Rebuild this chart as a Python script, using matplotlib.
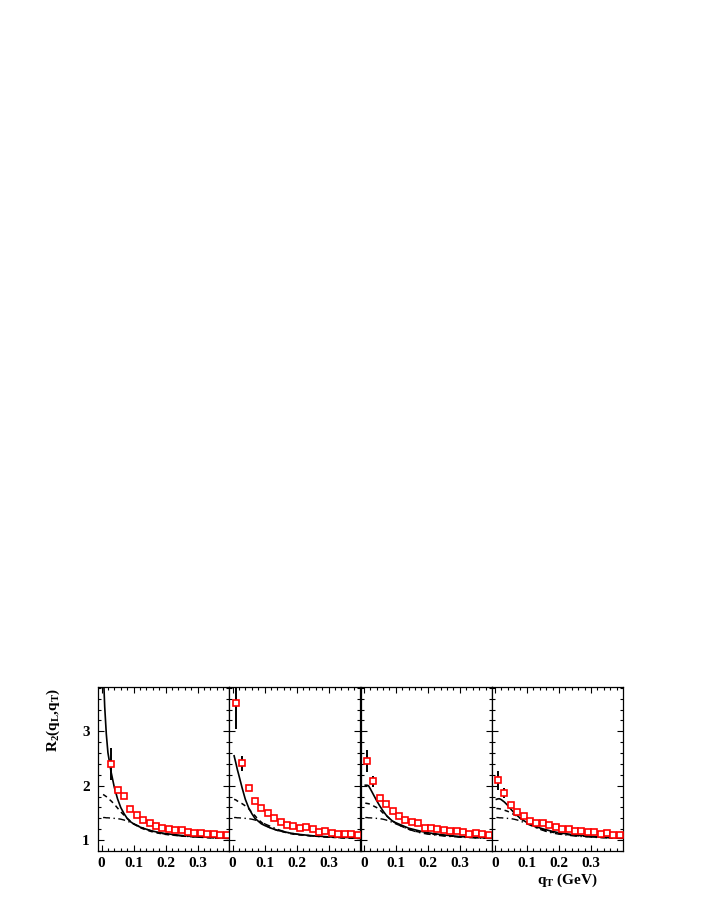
import matplotlib
matplotlib.use("Agg")
import matplotlib.pyplot as plt
from matplotlib.ticker import MultipleLocator, FixedLocator

plt.rcParams['font.family'] = ['Liberation Serif', 'DejaVu Serif']
plt.rcParams['mathtext.fontset'] = 'custom'
plt.rcParams['mathtext.rm'] = 'Liberation Serif:bold'
plt.rcParams['mathtext.it'] = 'Liberation Serif:bold'
plt.rcParams['mathtext.bf'] = 'Liberation Serif:bold'

# data points (q_T in GeV, R2 values) for the four panels
q_pts_a = [0.03, 0.05, 0.07, 0.09, 0.11, 0.13, 0.15, 0.17, 0.19, 0.21,
           0.23, 0.25, 0.27, 0.29, 0.31, 0.33, 0.35, 0.37, 0.39]
q_pts = [0.01, 0.03, 0.05, 0.07, 0.09, 0.11, 0.13, 0.15, 0.17, 0.19, 0.21,
         0.23, 0.25, 0.27, 0.29, 0.31, 0.33, 0.35, 0.37, 0.39]

r2_p1 = [2.40, 1.93, 1.82, 1.58, 1.47, 1.37, 1.31, 1.26, 1.23, 1.21,
         1.18, 1.18, 1.15, 1.14, 1.13, 1.12, 1.11, 1.10, 1.10]
err_p1 = [0.30, 0.05, 0.04, 0.03, 0.03, 0.02, 0.02, 0.02, 0.02, 0.02,
          0.02, 0.02, 0.02, 0.02, 0.02, 0.02, 0.02, 0.02, 0.02]

r2_p2 = [3.52, 2.41, 1.96, 1.72, 1.595, 1.49, 1.41, 1.34, 1.28, 1.26,
         1.22, 1.245, 1.20, 1.15, 1.17, 1.14, 1.11, 1.12, 1.12, 1.09]
err_p2 = [0.47, 0.14, 0.05, 0.04, 0.03, 0.03, 0.02, 0.02, 0.02, 0.02,
          0.02, 0.02, 0.02, 0.02, 0.02, 0.02, 0.02, 0.02, 0.02, 0.02]

r2_p3 = [2.455, 2.08, 1.78, 1.66, 1.54, 1.44, 1.37, 1.33, 1.31, 1.215,
         1.23, 1.21, 1.18, 1.16, 1.17, 1.15, 1.12, 1.13, 1.12, 1.10]
err_p3 = [0.20, 0.10, 0.04, 0.03, 0.03, 0.02, 0.02, 0.02, 0.02, 0.02,
          0.02, 0.02, 0.02, 0.02, 0.02, 0.02, 0.02, 0.02, 0.02, 0.02]

r2_p4 = [2.10, 1.87, 1.65, 1.52, 1.45, 1.355, 1.31, 1.31, 1.28, 1.24,
         1.20, 1.20, 1.17, 1.16, 1.15, 1.15, 1.12, 1.13, 1.10, 1.10]
err_p4 = [0.17, 0.09, 0.04, 0.03, 0.03, 0.02, 0.02, 0.02, 0.02, 0.02,
          0.02, 0.02, 0.02, 0.02, 0.02, 0.02, 0.02, 0.02, 0.02, 0.02]

q_curve = [0.005, 0.01, 0.015, 0.02, 0.03, 0.04, 0.05, 0.06, 0.07, 0.08, 0.09,
           0.10, 0.12, 0.14, 0.16, 0.18, 0.20, 0.25, 0.30, 0.35, 0.40]

solid_p1 = [4.20, 3.45, 2.95, 2.61, 2.25, 1.97, 1.76, 1.60, 1.49, 1.40, 1.34,
            1.30, 1.24, 1.20, 1.165, 1.14, 1.12, 1.085, 1.065, 1.05, 1.04]
dash_p1 = [1.84, 1.82, 1.80, 1.77, 1.72, 1.66, 1.59, 1.52, 1.46, 1.40, 1.35,
           1.30, 1.23, 1.185, 1.15, 1.125, 1.105, 1.075, 1.055, 1.04, 1.03]

solid_p2 = [2.55, 2.43, 2.30, 2.19, 1.96, 1.75, 1.60, 1.49, 1.40, 1.35, 1.30,
            1.27, 1.22, 1.18, 1.155, 1.13, 1.11, 1.08, 1.06, 1.05, 1.04]
dash_p2 = [1.75, 1.74, 1.72, 1.70, 1.67, 1.63, 1.58, 1.51, 1.45, 1.38, 1.33,
           1.28, 1.22, 1.18, 1.15, 1.12, 1.10, 1.075, 1.055, 1.04, 1.03]

solid_p3 = [2.01, 2.01, 2.00, 1.95, 1.84, 1.73, 1.63, 1.54, 1.46, 1.40, 1.35,
            1.32, 1.27, 1.22, 1.19, 1.16, 1.135, 1.095, 1.065, 1.05, 1.04]
dash_p3 = [1.68, 1.675, 1.67, 1.66, 1.63, 1.60, 1.56, 1.50, 1.45, 1.40, 1.35,
           1.31, 1.25, 1.20, 1.165, 1.14, 1.12, 1.085, 1.06, 1.045, 1.035]

solid_p4 = [1.75, 1.76, 1.76, 1.745, 1.70, 1.64, 1.57, 1.505, 1.45, 1.40, 1.36,
            1.325, 1.27, 1.225, 1.19, 1.16, 1.135, 1.095, 1.07, 1.05, 1.04]
dash_p4 = [1.58, 1.58, 1.575, 1.57, 1.55, 1.53, 1.50, 1.47, 1.44, 1.40, 1.36,
           1.32, 1.26, 1.21, 1.17, 1.145, 1.12, 1.085, 1.06, 1.045, 1.035]

dashdot_all = [1.415, 1.415, 1.41, 1.41, 1.405, 1.40, 1.395, 1.385, 1.37, 1.35, 1.325,
               1.30, 1.25, 1.20, 1.16, 1.13, 1.11, 1.075, 1.055, 1.04, 1.03]

panels = [
    (q_pts_a, r2_p1, err_p1, solid_p1, dash_p1),
    (q_pts, r2_p2, err_p2, solid_p2, dash_p2),
    (q_pts, r2_p3, err_p3, solid_p3, dash_p3),
    (q_pts, r2_p4, err_p4, solid_p4, dash_p4),
]

fig = plt.figure(figsize=(7.08, 9.17), dpi=100)

left_px = [98.3, 229.3, 360.5, 491.6]
width_px = 131.1
W, H = 708.0, 917.0
bottom = 1 - 851.0 / H
height = (851.0 - 687.3) / H

for i, (qx, r2, err, solid, dash) in enumerate(panels):
    ax = fig.add_axes([left_px[i] / W, bottom, width_px / W, height])
    ax.plot(q_curve, solid, color='black', lw=1.2, zorder=2)
    ax.plot(q_curve, dash, color='black', lw=1.1, ls=(0, (3, 2.5)), zorder=2)
    ax.plot(q_curve, dashdot_all, color='black', lw=1.0,
            ls=(0, (5, 2.5, 1, 2.5)), zorder=2)
    ax.errorbar(qx, r2, yerr=err, fmt='none', ecolor='black', elinewidth=1.4,
                capsize=0, zorder=3)
    ax.plot(qx, r2, ls='none', marker='s', ms=3.9, mfc='white', mec='red',
            mew=1.2, zorder=4)

    ax.set_xlim(-0.01, 0.399)
    ax.set_ylim(0.8, 3.81)
    ax.xaxis.set_major_locator(FixedLocator([0, 0.1, 0.2, 0.3]))
    ax.xaxis.set_minor_locator(MultipleLocator(0.02))
    ax.yaxis.set_major_locator(FixedLocator([1, 2, 3]))
    ax.yaxis.set_minor_locator(MultipleLocator(0.2))
    ax.tick_params(which='both', direction='in', top=True, right=True,
                   width=0.8, labelsize=11)
    ax.tick_params(axis='x', pad=4)
    ax.tick_params(axis='y', pad=6)
    ax.tick_params(which='major', length=4.5)
    ax.tick_params(which='minor', length=2.2)
    ax.set_xticklabels(['0', '0.1', '0.2', '0.3'], fontweight='bold')
    if i == 0:
        ax.set_yticklabels(['1', '2', '3'], fontweight='bold')
    else:
        ax.tick_params(labelleft=False)
    for s in ax.spines.values():
        s.set_linewidth(0.9)

fig.text(53 / W, 1 - 720 / H, r'R$_2$(q$_L$,q$_T$)', rotation=90,
         ha='center', va='center', fontsize=11, fontweight='bold')
fig.text(598 / W, 1 - 872 / H, r'q$_T$ (GeV)', ha='right', va='top',
         fontsize=11, fontweight='bold')

fig.savefig('out.png', dpi=100)
